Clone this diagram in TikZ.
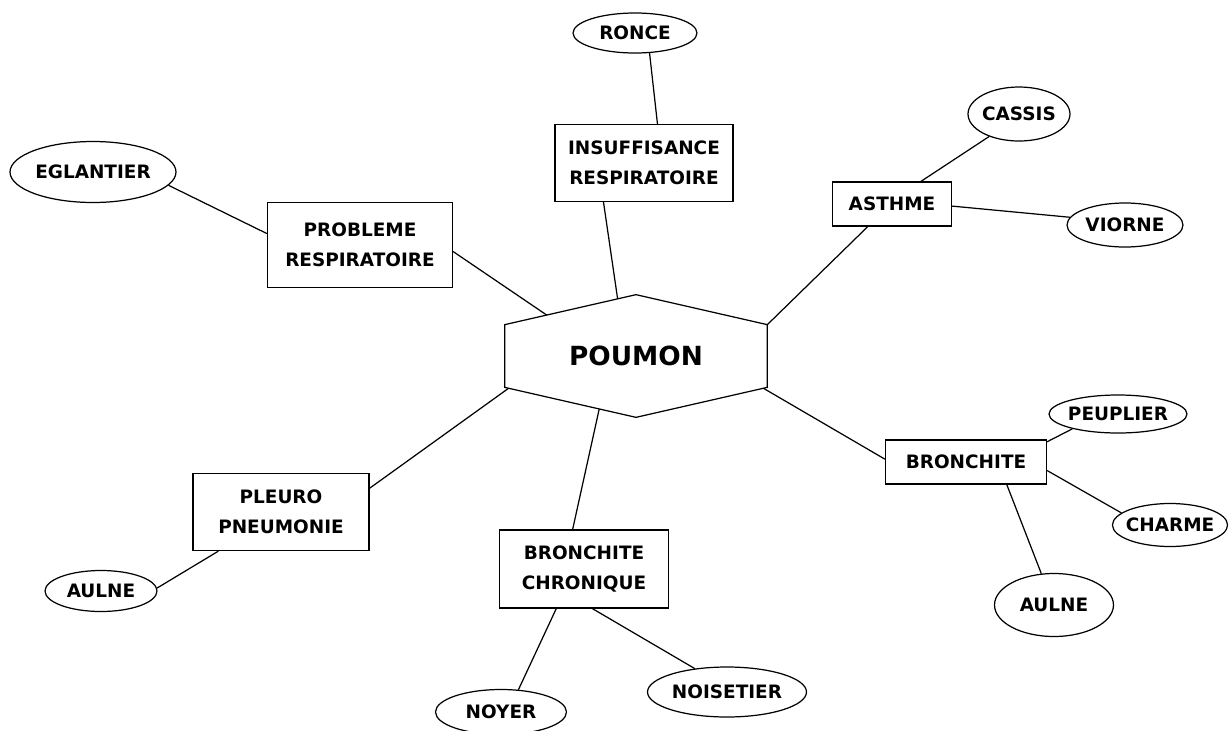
\documentclass[tikz,border=0pt]{standalone}
\usepackage{fontspec}
\setmainfont{DejaVu Sans}
\usepackage{tikz}
\usetikzlibrary{shapes.geometric, calc}

\newcommand{\etiq}{\fontsize{10.5}{17}\selectfont\bfseries}
\newcommand{\gros}{\fontsize{15}{18}\selectfont\bfseries}

\begin{document}
\begin{tikzpicture}[x=0.02cm, y=-0.02cm,
    boite/.style={draw, line width=0.7pt, align=center, inner sep=2pt, font=\etiq},
    plante/.style={draw, ellipse, line width=0.7pt, inner xsep=-2pt, inner ysep=0pt, font=\etiq},
    lien/.style={line width=0.7pt}]
      \useasboundingbox (0,0) rectangle (1232,731);

      % Centre
      \node[font=\gros, minimum width=5.24cm, minimum height=1.24cm] (poumon) at (636,356) {POUMON};
      \coordinate (hexhaut) at ($(poumon.north)+(0,-30)$);
      \coordinate (hexbas) at ($(poumon.south)+(0,30)$);
      \draw[lien] (poumon.north west) -- (hexhaut) -- (poumon.north east) -- (poumon.south east) -- (hexbas) -- (poumon.south west) -- cycle;
      \coordinate (pA) at ($(poumon.north west)!0.32!(hexhaut)$);
      \coordinate (pB) at ($(poumon.north west)!0.86!(hexhaut)$);
      \coordinate (pC) at ($(poumon.south east)!0.03!(hexbas)$);
      \coordinate (pD) at ($(poumon.south west)!0.72!(hexbas)$);
      \coordinate (pE) at ($(poumon.south west)!0.03!(hexbas)$);

      % Maladies
      \node[boite, minimum width=3.56cm, minimum height=1.54cm] (insuf) at (644,163) {INSUFFISANCE\\RESPIRATOIRE};
      \node[boite, minimum width=3.70cm, minimum height=1.70cm] (probleme) at (360,245) {PROBLEME\\RESPIRATOIRE};
      \node[boite, minimum width=2.38cm, minimum height=0.88cm] (asthme) at (892,204) {ASTHME};
      \node[boite, minimum width=3.22cm, minimum height=0.88cm] (bronchite) at (966,462) {BRONCHITE};
      \node[boite, minimum width=3.52cm, minimum height=1.54cm] (pleuro) at (281,512) {PLEURO\\PNEUMONIE};
      \node[boite, minimum width=3.38cm, minimum height=1.56cm] (chronique) at (584,569) {BRONCHITE\\CHRONIQUE};

      % Plantes
      \node[plante, minimum width=2.48cm, minimum height=0.80cm] (ronce) at (635,33) {RONCE};
      \node[plante, minimum width=3.32cm, minimum height=1.22cm] (eglantier) at (93,172) {EGLANTIER};
      \node[plante, minimum width=2.04cm, minimum height=1.08cm] (cassis) at (1019,114) {CASSIS};
      \node[plante, minimum width=2.32cm, minimum height=0.88cm] (viorne) at (1125,225) {VIORNE};
      \node[plante, minimum width=2.76cm, minimum height=0.76cm] (peuplier) at (1118,414) {PEUPLIER};
      \node[plante, minimum width=2.30cm, minimum height=0.86cm] (charme) at (1170,525) {CHARME};
      \node[plante, minimum width=2.38cm, minimum height=1.26cm] (aulneD) at (1054,605) {AULNE};
      \node[plante, minimum width=2.24cm, minimum height=0.82cm] (aulneG) at (101,591) {AULNE};
      \node[plante, minimum width=2.62cm, minimum height=0.90cm] (noyer) at (501,712) {NOYER};
      \node[plante, minimum width=3.18cm, minimum height=1.00cm] (noisetier) at (727,692) {NOISETIER};

      % Liens
      \draw[lien] (pB) -- (insuf.-136);
      \draw[lien] (insuf.71) -- (ronce.-54);
      \draw[lien] (pA) -- (probleme.-4);
      \draw[lien] (probleme.173) -- (eglantier.-10);
      \draw[lien] (poumon.north east) -- (asthme.-137);
      \draw[lien] (asthme.38) -- (cassis.-143);
      \draw[lien] (asthme.-2) -- (viorne.172);
      \draw[lien] (pC) -- (bronchite.178);
      \draw[lien] (bronchite.14) -- (peuplier.-162);
      \draw[lien] (bronchite.-6) -- (charme.166);
      \draw[lien] (bronchite.-29) -- (aulneD.112);
      \draw[lien] (pE) -- (pleuro.15);
      \draw[lien] (pleuro.-148) -- (aulneG.3);
      \draw[lien] (pD) -- (chronique.106);
      \draw[lien] (chronique.-125) -- (noyer.52);
      \draw[lien] (chronique.-78) -- (noisetier.144);
\end{tikzpicture}
\end{document}
